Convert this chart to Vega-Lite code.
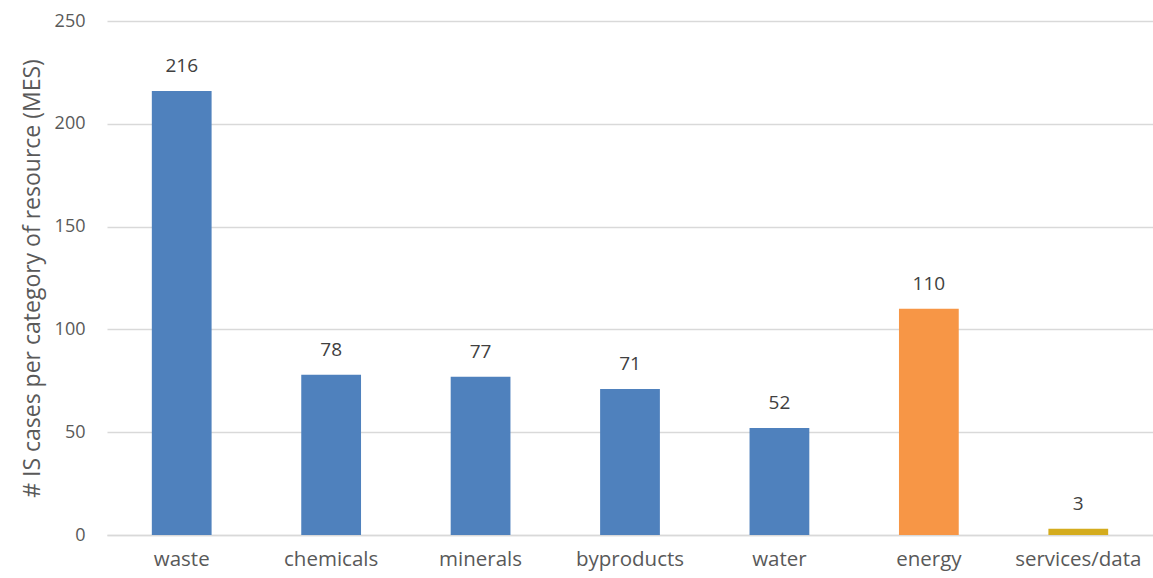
{
  "$schema": "https://vega.github.io/schema/vega-lite/v6.json",
  "autosize": {"type": "none"},
  "width": 1046,
  "height": 514,
  "padding": {"left": 107, "top": 21, "right": 0, "bottom": 43},
  "background": "white",
  "config": {
    "view": {"stroke": null},
    "font": "Open Sans",
    "axis": {"labelFont": "Open Sans", "titleFont": "Open Sans", "labelColor": "#595959", "titleColor": "#595959", "labelFontSize": 18, "titleFontSize": 23, "titleFontWeight": "normal"}
  },
  "data": {
    "values": [
      {"category": "waste", "count": 216, "group": "a"},
      {"category": "chemicals", "count": 78, "group": "a"},
      {"category": "minerals", "count": 77, "group": "a"},
      {"category": "byproducts", "count": 71, "group": "a"},
      {"category": "water", "count": 52, "group": "a"},
      {"category": "energy", "count": 110, "group": "b"},
      {"category": "services/data", "count": 3, "group": "c"}
    ]
  },
  "encoding": {
    "x": {
      "field": "category", "type": "nominal", "sort": null,
      "scale": {"paddingInner": 0.6, "paddingOuter": 0.3},
      "axis": {"title": null, "labelAngle": 0, "ticks": false, "domainColor": "#d9d9d9", "domainWidth": 1.5, "labelPadding": 14, "labelFontSize": 20.5}
    },
    "y": {
      "field": "count", "type": "quantitative",
      "scale": {"domain": [0, 250]},
      "axis": {"title": "# IS cases per category of resource (MES)", "values": [0, 50, 100, 150, 200, 250], "domain": false, "ticks": false, "gridColor": "#d9d9d9", "gridWidth": 1.5, "labelPadding": 22, "titlePadding": 10}
    }
  },
  "layer": [
    {
      "mark": {"type": "bar"},
      "encoding": {
        "color": {"field": "group", "type": "nominal", "scale": {"domain": ["a", "b", "c"], "range": ["#4F81BD", "#F79646", "#D4AC1E"]}, "legend": null}
      }
    },
    {
      "mark": {"type": "text", "baseline": "bottom", "dy": -15, "fontSize": 19, "color": "#404040", "font": "Open Sans"},
      "encoding": {"text": {"field": "count", "type": "quantitative"}}
    }
  ]
}
